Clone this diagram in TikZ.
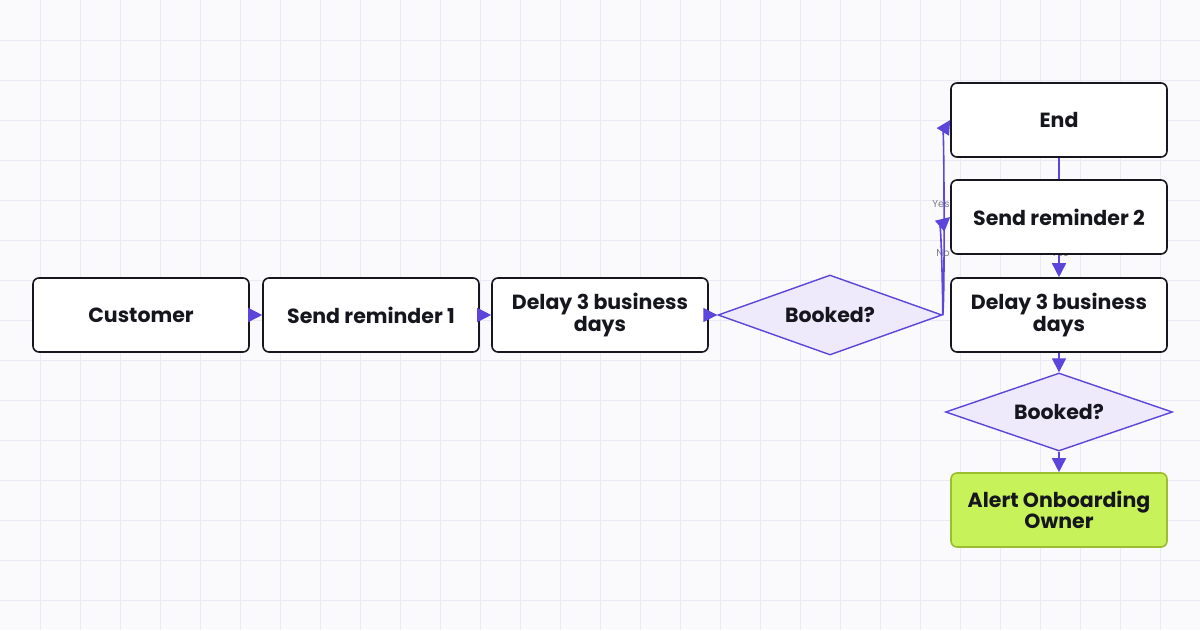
\documentclass[tikz,border=0pt]{standalone}
\usepackage{fontspec}
\setmainfont{Poppins}
\usetikzlibrary{shapes.geometric,arrows.meta,backgrounds}
\definecolor{edge}{HTML}{5B45DB}
\definecolor{dfill}{HTML}{EEEAFB}
\definecolor{gfill}{HTML}{C8F25A}
\definecolor{gline}{HTML}{9CBD2F}
\definecolor{ink}{HTML}{16161E}
\definecolor{bg}{HTML}{FAFAFD}
\definecolor{gridc}{HTML}{EAE9F6}
\begin{document}
\begin{tikzpicture}[x=1pt,y=-1pt,
 box/.style={draw=ink,line width=1.6pt,rounded corners=6pt,fill=white,minimum width=216pt,minimum height=74pt,align=center,font=\bfseries\fontsize{20.5}{19}\selectfont,text=ink},
 dia/.style={draw=edge,line width=1.4pt,fill=dfill,diamond,aspect=2.8,inner sep=0pt,font=\bfseries\fontsize{20.5}{19}\selectfont,text=ink},
 con/.style={draw=edge,line width=1.6pt,-{Triangle[length=14pt,width=14pt]}},
 lab/.style={text=gray,font=\fontsize{10}{10}\selectfont}]
\useasboundingbox (0,0) rectangle (1200,630);
\node[box] (c) at (141,315) {Customer};
\node[box] (s1) at (371,315) {Send reminder 1};
\node[box] (d1) at (600,315) {Delay 3 business\\days};
\node[dia,minimum width=224pt,minimum height=80pt] (b1) at (830,315) {Booked?};
\node[box] (e) at (1059,120) {End};
\node[box] (s2) at (1059,217) {Send reminder 2};
\node[box] (d2) at (1059,315) {Delay 3 business\\days};
\node[dia,minimum width=227pt,minimum height=78pt] (b2) at (1059,412) {Booked?};
\node[box,fill=gfill,draw=gline] (a) at (1059,510) {Alert Onboarding\\Owner};
\begin{scope}[on background layer]
\fill[bg] (0,0) rectangle (1200,630);
\foreach \i in {40,80,...,1160} \draw[gridc,line width=0.6pt] (\i,0) -- (\i,630);
\foreach \j in {40,80,...,600} \draw[gridc,line width=0.6pt] (0,\j) -- (1200,\j);
\node[lab] (ly) at (941,204) {Yes};
\node[lab] (ln) at (943,253) {No};
\node[lab] (ly2) at (1060,253) {Yes};
\draw[con] (e.south) -- (d2.north);
\end{scope}
\draw[con] (c) -- (s1);
\draw[con] (s1) -- (d1);
\draw[con] (d1) -- (b1);
\draw[con] (b1.east) .. controls (945,300) and (944,130) .. (e.west);
\draw[con] (b1.east) .. controls (943,300) and (941,225) .. (s2.west);
\draw[con] (d2) -- (b2);
\draw[con] (b2) -- (a);
\end{tikzpicture}
\end{document}
